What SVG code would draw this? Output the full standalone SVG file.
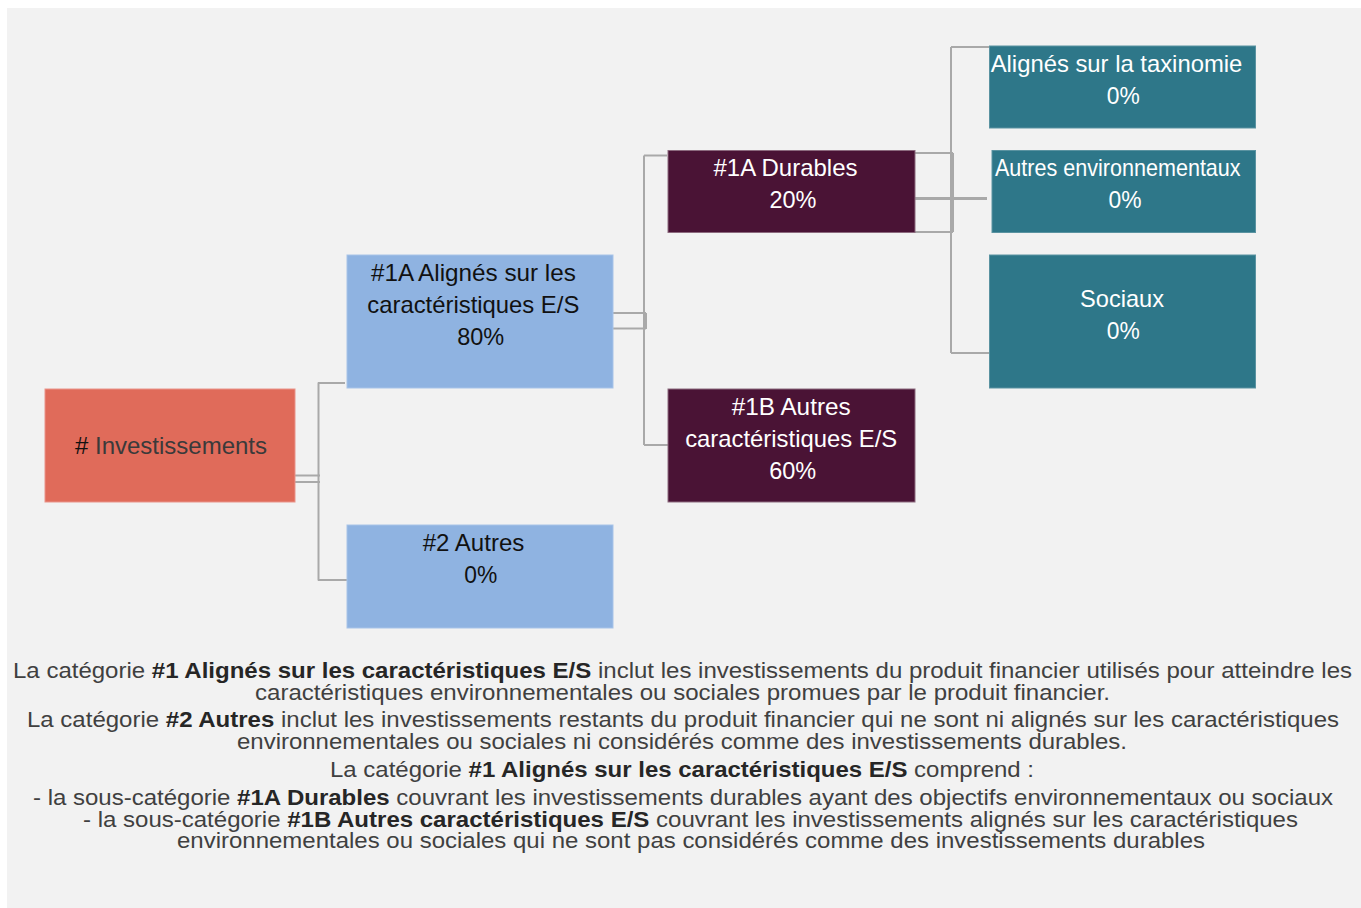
<svg xmlns="http://www.w3.org/2000/svg" width="1361" height="908" viewBox="0 0 1361 908">
<style>
.bx{font-family:"Liberation Sans",Arial,sans-serif;font-size:24px;text-anchor:middle}
.wt{fill:#ffffff}
.bk{fill:#111111}
.cn{fill:none;stroke:#a9a9a9;stroke-width:2}
.ft{font-family:"Liberation Sans",Arial,sans-serif;font-size:22px;fill:#404040}
.b{font-weight:bold;fill:#262626}
</style>
<rect x="0" y="0" width="1361" height="908" fill="#ffffff"/>
<rect x="7" y="8" width="1354" height="900" fill="#f2f2f2"/>

<g id="connectors">
  <path class="cn" d="M288,475.5 H320 M290,482 H320 M318.5,382.5 V580.5 M318,383 H345 M318,580 H349"/>
  <path class="cn" d="M612,313 H646 M612,328.5 H646 M644,155.5 V445 M646,313 V329 M644,155.5 H667 M644,445 H675"/>
  <path class="cn" d="M911,153 H953 M913,232 H953 M951,47 V353 M953,153 V232 M951,47 H991 M951,353 H990"/>
  <path class="cn" style="stroke-width:3" d="M909,198.5 H987"/>
</g>

<g id="node-investissements">
  <rect x="45" y="389" width="250" height="113" fill="#e06b5a" stroke="#e9948a" stroke-width="1"/>
  <text class="bx" x="171" y="454" fill="#3a3a3a" textLength="192" lengthAdjust="spacingAndGlyphs"><tspan fill="#111">#</tspan> Investissements</text>
</g>

<g id="node-1-alignes">
  <rect x="347" y="255" width="266" height="133" fill="#8fb3e1" stroke="#a7c3e8" stroke-width="1"/>
  <text class="bx bk" x="473.4" y="281" textLength="205" lengthAdjust="spacingAndGlyphs">#1A Alignés sur les</text>
  <text class="bx bk" x="473.3" y="313" textLength="212" lengthAdjust="spacingAndGlyphs">caractéristiques E/S</text>
  <text class="bx bk" x="480.7" y="345" textLength="47" lengthAdjust="spacingAndGlyphs">80%</text>
</g>

<g id="node-2-autres">
  <rect x="347" y="525" width="266" height="103" fill="#8fb3e1" stroke="#a7c3e8" stroke-width="1"/>
  <text class="bx bk" x="473.5" y="551" textLength="101.6" lengthAdjust="spacingAndGlyphs">#2 Autres</text>
  <text class="bx bk" x="480.7" y="583" textLength="33" lengthAdjust="spacingAndGlyphs">0%</text>
</g>

<g id="node-1a-durables">
  <rect x="668" y="150.5" width="247" height="82" fill="#4a1335" stroke="#8c6a7e" stroke-width="1"/>
  <text class="bx wt" x="785.5" y="176" textLength="144" lengthAdjust="spacingAndGlyphs">#1A Durables</text>
  <text class="bx wt" x="793" y="208" textLength="47" lengthAdjust="spacingAndGlyphs">20%</text>
</g>

<g id="node-1b-autres">
  <rect x="668" y="389" width="247" height="113" fill="#4a1335" stroke="#8c6a7e" stroke-width="1"/>
  <text class="bx wt" x="791.2" y="415" textLength="119" lengthAdjust="spacingAndGlyphs">#1B Autres</text>
  <text class="bx wt" x="791.2" y="447" textLength="212" lengthAdjust="spacingAndGlyphs">caractéristiques E/S</text>
  <text class="bx wt" x="792.7" y="479" textLength="47" lengthAdjust="spacingAndGlyphs">60%</text>
</g>

<g id="node-taxinomie">
  <rect x="989.5" y="46" width="266" height="82" fill="#2e7789" stroke="#5a93a1" stroke-width="1"/>
  <text class="bx wt" x="1116.5" y="72" textLength="251.6" lengthAdjust="spacingAndGlyphs">Alignés sur la taxinomie</text>
  <text class="bx wt" x="1123.3" y="104" textLength="33" lengthAdjust="spacingAndGlyphs">0%</text>
</g>

<g id="node-autres-env">
  <rect x="992" y="150.5" width="263.5" height="82" fill="#2e7789" stroke="#5a93a1" stroke-width="1"/>
  <text class="bx wt" x="1117.8" y="176" textLength="245.7" lengthAdjust="spacingAndGlyphs">Autres environnementaux</text>
  <text class="bx wt" x="1125" y="208" textLength="33" lengthAdjust="spacingAndGlyphs">0%</text>
</g>

<g id="node-sociaux">
  <rect x="989.5" y="255" width="266" height="133" fill="#2e7789" stroke="#5a93a1" stroke-width="1"/>
  <text class="bx wt" x="1122" y="307" textLength="84" lengthAdjust="spacingAndGlyphs">Sociaux</text>
  <text class="bx wt" x="1123.3" y="339" textLength="33" lengthAdjust="spacingAndGlyphs">0%</text>
</g>

<g id="legend">
  <text class="ft" x="13" y="678" textLength="1339" lengthAdjust="spacingAndGlyphs">La catégorie <tspan class="b">#1 Alignés sur les caractéristiques E/S</tspan> inclut les investissements du produit financier utilisés pour atteindre les</text>
  <text class="ft" x="255" y="700" textLength="855" lengthAdjust="spacingAndGlyphs">caractéristiques environnementales ou sociales promues par le produit financier.</text>
  <text class="ft" x="27" y="727" textLength="1312" lengthAdjust="spacingAndGlyphs">La catégorie <tspan class="b">#2 Autres</tspan> inclut les investissements restants du produit financier qui ne sont ni alignés sur les caractéristiques</text>
  <text class="ft" x="237" y="749" textLength="890" lengthAdjust="spacingAndGlyphs">environnementales ou sociales ni considérés comme des investissements durables.</text>
  <text class="ft" x="330" y="777" textLength="704" lengthAdjust="spacingAndGlyphs">La catégorie <tspan class="b">#1 Alignés sur les caractéristiques E/S</tspan> comprend :</text>
  <text class="ft" x="33" y="805" textLength="1300" lengthAdjust="spacingAndGlyphs">- la sous-catégorie <tspan class="b">#1A Durables</tspan> couvrant les investissements durables ayant des objectifs environnementaux ou sociaux</text>
  <text class="ft" x="83" y="827" textLength="1215" lengthAdjust="spacingAndGlyphs">- la sous-catégorie <tspan class="b">#1B Autres caractéristiques E/S</tspan> couvrant les investissements alignés sur les caractéristiques</text>
  <text class="ft" x="177" y="848" textLength="1028" lengthAdjust="spacingAndGlyphs">environnementales ou sociales qui ne sont pas considérés comme des investissements durables</text>
</g>
</svg>
